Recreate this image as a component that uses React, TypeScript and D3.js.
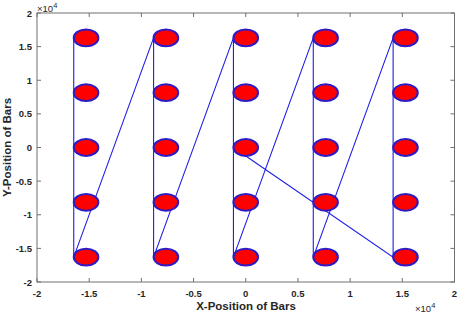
import React, { useEffect, useRef } from 'react'
import * as d3 from 'd3'

// bar grid (ellipse centres)
const colX = [-15300, -7650, 0, 7650, 15300]
const rowY = [16300, 8150, 0, -8150, -16300]
// connecting path: each entry is [column, row]
const pathOrder: [number, number][] = [
    [0, 0], [0, 1], [0, 2], [0, 3], [0, 4],
    [1, 0], [1, 1], [1, 2], [1, 3], [1, 4],
    [2, 0], [2, 1], [2, 2], [2, 3], [2, 4],
    [3, 0], [3, 1], [3, 2], [3, 3], [3, 4],
    [4, 0], [4, 1], [4, 2], [4, 3], [4, 4],
    [2, 2],
]
const xTicks = [-2, -1.5, -1, -0.5, 0, 0.5, 1, 1.5, 2]
const yTicks = [-2, -1.5, -1, -0.5, 0, 0.5, 1, 1.5, 2]
const barRx = 1180
const barRy = 1250

const App: React.FC = () => {
    const svgRef = useRef<SVGSVGElement>(null)
    const width = 462
    const height = 320

    useEffect(() => {
        if (!svgRef.current) return
        const svg = d3.select(svgRef.current)
        svg.selectAll("*").remove()

        const left = 37, right = 454.5, top = 13, bottom = 282
        const x = d3.scaleLinear().domain([-20000, 20000]).range([left, right])
        const y = d3.scaleLinear().domain([-20000, 20000]).range([bottom, top])
        const font = "'Liberation Sans', Arial, sans-serif"
        const axisCol = "#707070"
        const textCol = "#262626"

        // connecting line, vertices on the left edge of each ellipse
        const line = d3.line<[number, number]>()
            .x(d => x(colX[d[0]] - barRx))
            .y(d => y(rowY[d[1]]))
        svg.append("path")
            .attr("d", line(pathOrder))
            .attr("fill", "none")
            .attr("stroke", "#1f1fe6")
            .attr("stroke-width", 1.1)

        // bars
        const cells = colX.flatMap(cx => rowY.map(cy => ({ cx, cy })))
        svg.selectAll("ellipse")
            .data(cells)
            .enter().append("ellipse")
            .attr("cx", d => x(d.cx))
            .attr("cy", d => y(d.cy))
            .attr("rx", x(barRx) - x(0))
            .attr("ry", y(0) - y(barRy))
            .attr("fill", "#ff0000")
            .attr("stroke", "#2d1bc4")
            .attr("stroke-width", 2)

        // box
        svg.append("rect")
            .attr("x", left).attr("y", top)
            .attr("width", right - left).attr("height", bottom - top)
            .attr("fill", "none").attr("stroke", axisCol).attr("stroke-width", 1)

        const tl = 4
        xTicks.forEach(t => {
            const px = x(t * 1e4)
            svg.append("line").attr("x1", px).attr("x2", px).attr("y1", bottom).attr("y2", bottom - tl).attr("stroke", axisCol)
            svg.append("line").attr("x1", px).attr("x2", px).attr("y1", top).attr("y2", top + tl).attr("stroke", axisCol)
            svg.append("text").attr("x", px).attr("y", bottom + 15)
                .attr("text-anchor", "middle").attr("font-family", font).attr("font-weight", "bold")
                .attr("font-size", 9.5).attr("fill", textCol).text(String(t))
        })
        yTicks.forEach(t => {
            const py = y(t * 1e4)
            svg.append("line").attr("x1", left).attr("x2", left + tl).attr("y1", py).attr("y2", py).attr("stroke", axisCol)
            svg.append("line").attr("x1", right).attr("x2", right - tl).attr("y1", py).attr("y2", py).attr("stroke", axisCol)
            svg.append("text").attr("x", left - 5).attr("y", py + 3.5)
                .attr("text-anchor", "end").attr("font-family", font).attr("font-weight", "bold")
                .attr("font-size", 9.5).attr("fill", textCol).text(String(t))
        })

        // exponent labels
        const expo = (tx: number, ty: number) => {
            const t = svg.append("text").attr("x", tx).attr("y", ty)
                .attr("font-family", font).attr("font-size", 9.5).attr("fill", textCol)
            t.append("tspan").text("\u00d710")
            t.append("tspan").attr("dy", -4.5).attr("font-size", 7.5).text("4")
        }
        expo(37, 12)
        expo(415, 312)

        svg.append("text")
            .attr("x", 246).attr("y", 310)
            .attr("text-anchor", "middle").attr("font-family", font).attr("font-weight", "bold")
            .attr("font-size", 11.5).attr("fill", textCol).text("X-Position of Bars")
        svg.append("text")
            .attr("transform", `translate(11,${(top + bottom) / 2}) rotate(-90)`)
            .attr("text-anchor", "middle").attr("font-family", font).attr("font-weight", "bold")
            .attr("font-size", 11.5).attr("fill", textCol).text("Y-Position of Bars")
    }, [])

    return <svg ref={svgRef} width={width} height={height}
        style={{ position: 'absolute', left: 0, top: 0, background: '#fff' }} />
}

export default App
